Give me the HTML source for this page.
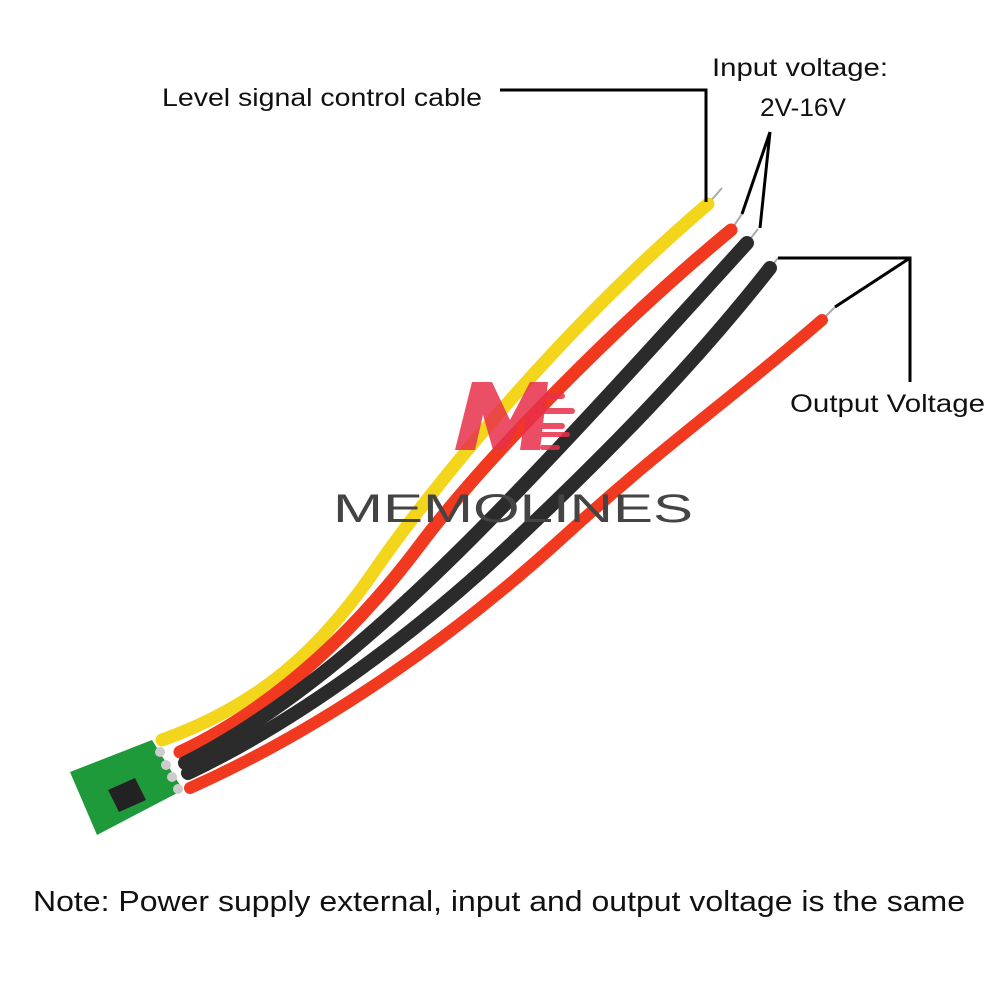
<!DOCTYPE html>
<html><head><meta charset="utf-8"><style>
html,body{margin:0;padding:0;background:#fff;}
svg{display:block}
text{font-family:"Liberation Sans",sans-serif;fill:#111}
</style></head><body>
<svg width="1000" height="1000" viewBox="0 0 1000 1000" xmlns="http://www.w3.org/2000/svg">
<rect width="1000" height="1000" fill="#fff"/>
<g stroke="#aaa" stroke-width="2">
<line x1="708" y1="204" x2="722" y2="188"/>
<line x1="731" y1="230" x2="742" y2="214"/>
<line x1="747" y1="243" x2="758" y2="229"/>
<line x1="770" y1="268" x2="778" y2="258"/>
<line x1="822" y1="320" x2="835" y2="307"/>
</g>
<g fill="none" stroke-linecap="round">
<path d="M162,740 C260,705 320,650 375,570 S560,330 708,204" stroke="#f3d61c" stroke-width="13"/>
<path d="M180,752 C280,705 360,625 420,545 S610,330 731,230" stroke="#f0391f" stroke-width="13"/>
<path d="M185,763 C290,710 390,620 470,540 S650,350 747,243" stroke="#2b2b2b" stroke-width="14"/>
<path d="M188,773 C300,720 420,630 510,545 S690,370 770,268" stroke="#2b2b2b" stroke-width="14"/>
<path d="M190,788 C320,730 450,640 560,540 S730,400 822,320" stroke="#f0391f" stroke-width="12"/>
</g>
<polygon points="70,772 152,740 183,790 97,835" fill="#1e9a3a"/>
<polygon points="108,790 135,778 146,800 119,812" fill="#222"/>
<g fill="#ccc"><circle cx="160" cy="752" r="5"/><circle cx="166" cy="765" r="5"/><circle cx="172" cy="777" r="5"/><circle cx="178" cy="789" r="5"/></g>
<g opacity="0.85">
<polygon points="455,450 472,382 492,382 510,420 530,382 548,382 540,450 520,450 525,415 505,450 493,450 483,415 475,450" fill="#e8304a"/>
<g fill="#e8304a"><rect x="540" y="393" width="25" height="6" rx="3"/><rect x="540" y="408" width="35" height="6" rx="3"/><rect x="535" y="423" width="30" height="6" rx="3"/><rect x="525" y="432" width="45" height="5" rx="2.5"/><rect x="540" y="445" width="20" height="5" rx="2.5"/></g>
</g>
<text x="333" y="522" font-size="40" style="fill:#444" textLength="360" lengthAdjust="spacingAndGlyphs">MEMOLINES</text>
<g stroke="#000" stroke-width="3" fill="none">
<polyline points="500,90 706,90 706,202"/>
<line x1="770" y1="132" x2="742" y2="214"/>
<line x1="770" y1="132" x2="760" y2="228"/>
<polyline points="778,258 910,258 910,382"/>
<line x1="910" y1="258" x2="835" y2="307"/>
</g>
<text x="162" y="106" font-size="25" textLength="320" lengthAdjust="spacingAndGlyphs">Level signal control cable</text>
<text x="712" y="76" font-size="25" textLength="176" lengthAdjust="spacingAndGlyphs">Input voltage:</text>
<text x="760" y="116" font-size="25" textLength="86" lengthAdjust="spacingAndGlyphs">2V-16V</text>
<text x="790" y="412" font-size="25" textLength="195" lengthAdjust="spacingAndGlyphs">Output Voltage</text>
<text x="33" y="911" font-size="29" textLength="932" lengthAdjust="spacingAndGlyphs">Note: Power supply external, input and output voltage is the same</text>
</svg>
</body></html>
